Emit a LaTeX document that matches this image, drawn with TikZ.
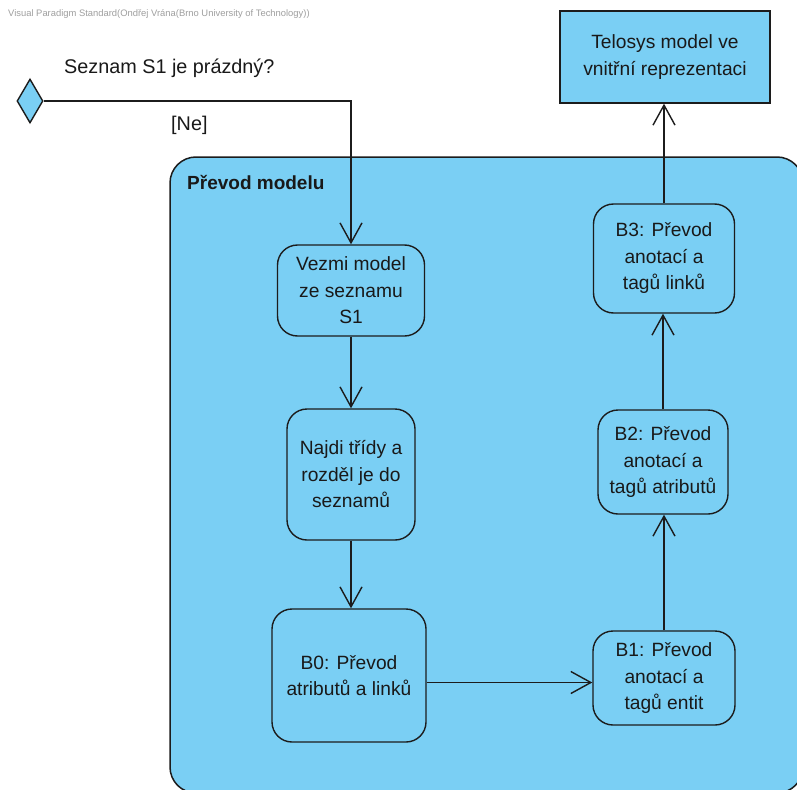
\documentclass[tikz,border=0pt]{standalone}
\usepackage{fontspec}
\setmainfont{Liberation Sans}
\usetikzlibrary{arrows.meta,shapes.geometric}
\definecolor{boxblue}{RGB}{122,207,244}
\definecolor{edgec}{RGB}{28,28,28}
\definecolor{txtc}{RGB}{25,25,25}
\begin{document}
\begin{tikzpicture}[x=1pt,y=-1pt,
  act/.style={draw=edgec, fill=boxblue, line width=1.4pt, rounded corners=20pt, align=center,
    text=txtc, font=\fontsize{19.2}{26.5}\selectfont, inner sep=0pt},
  objbox/.style={draw=edgec, fill=boxblue, line width=1.4pt, align=center,
    text=txtc, font=\fontsize{19.2}{26.5}\selectfont, inner sep=0pt},
  flow/.style={draw=edgec, line width=1.4pt, -{Straight Barb[length=20pt,width=22pt,line width=1.4pt]}},
  plain/.style={text=txtc, font=\fontsize{19.8}{22}\selectfont, inner sep=0pt, anchor=west}]
\useasboundingbox (0,0) rectangle (797,789);
\fill[white] (0,0) rectangle (797,789);
% watermark
\node[anchor=west, inner sep=0pt, text=gray!75, font=\fontsize{9.4}{10}\selectfont] (wm) at (8,14)
  {Visual Paradigm Standard(Ondřej Vrána(Brno University of Technology))};
% container
\node[draw=edgec, fill=boxblue, line width=1.5pt, rounded corners=26pt, inner sep=0pt,
  minimum width=633pt, minimum height=636pt] (grp) at (486.5,475) {};
\node[anchor=west, inner sep=0pt, text=txtc, font=\bfseries\fontsize{19}{22}\selectfont] (grplbl) at (187,182) {Převod modelu};
% decision
\node[draw=edgec, fill=boxblue, line width=1.4pt, shape=diamond, inner sep=0pt,
  minimum width=26pt, minimum height=44pt] (dec) at (30,101) {};
\node[plain] (declbl) at (64,68) {Seznam S1 je prázdný?};
\node[plain] (ne) at (171,125) {[Ne]};
% actions
\node[act, minimum width=147pt, minimum height=91pt] (vezmi) at (351,290.5) {Vezmi model\\ze seznamu\\S1};
\node[act, minimum width=128pt, minimum height=131pt] (najdi) at (351,474.5) {Najdi třídy a\\rozděl je do\\seznamů};
\node[act, minimum width=154pt, minimum height=133pt] (b0) at (349,675.5) {B0: Převod\\atributů a linků};
\node[act, minimum width=142pt, minimum height=94pt] (b1) at (664,678) {B1: Převod\\anotací a\\tagů entit};
\node[act, minimum width=130pt, minimum height=104pt] (b2) at (663,462) {B2: Převod\\anotací a\\tagů atributů};
\node[act, minimum width=141pt, minimum height=109pt] (b3) at (664,258.5) {B3: Převod\\anotací a\\tagů linků};
\node[objbox, minimum width=210pt, minimum height=92pt] (tel) at (665,57) {Telosys model ve\\vnitřní reprezentaci};
% flows
\draw[flow] (dec.east) -| (vezmi.north);
\draw[flow] (vezmi.south) -- (vezmi.south |- najdi.north);
\draw[flow] (najdi.south) -- (najdi.south |- b0.north);
\draw[flow] ([yshift=-7pt]b0.east) -- ([yshift=-7pt]b0.east -| b1.west);
\draw[flow] (b1.north) -- (b1.north |- b2.south);
\draw[flow] (b2.north) -- (b2.north |- b3.south);
\draw[flow] (b3.north) -- (b3.north |- tel.south);
\end{tikzpicture}
\end{document}
